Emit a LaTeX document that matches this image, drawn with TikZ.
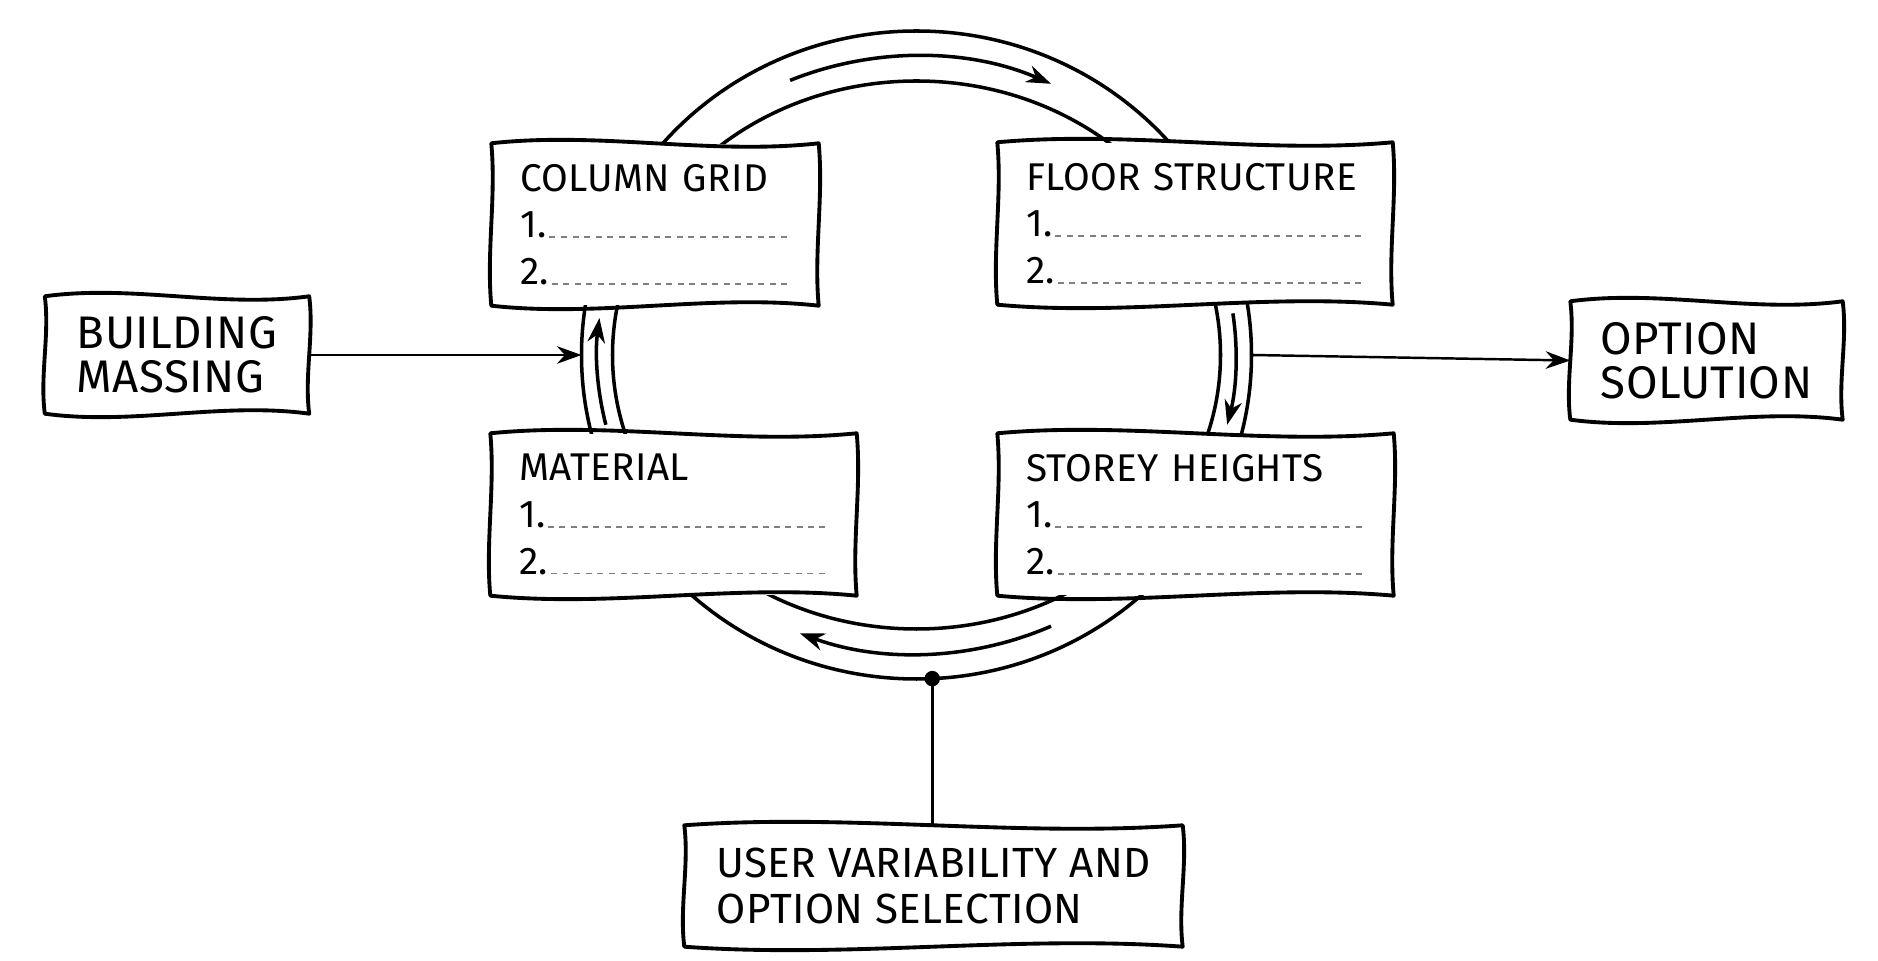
\documentclass[tikz,border=0pt]{standalone}
\usepackage{fontspec}
\setmainfont{Fira Sans}[LetterSpace=1]
\usepackage{xcolor}
\usepackage{tikz}
\usetikzlibrary{arrows.meta, calc}
\newcommand\blankline{\leavevmode\xleaders\hbox to 3.2pt{\hss\textcolor{gray}{\rule{1.7pt}{0.45pt}}\hss}\hfill\kern0pt}
\tikzset{every node/.style={font=\fontsize{11}{13.3}\selectfont},
    sketch/.style={fill=white, align=left, inner xsep=0.28cm},
    listbox/.style={sketch, minimum height=1.61cm},
    bigtext/.style={font=\fontsize{13}{12.6}\selectfont},
    frame/.style={line width=1.1pt, line join=round},
    ring/.style={line width=1pt},
    ringarrow/.style={line width=1pt, -{Stealth[length=7pt,width=5pt]}},
    link/.style={line width=0.7pt, -{Stealth[length=7pt,width=5pt]}}}

\begin{document}
\begin{tikzpicture}
    \useasboundingbox (0,0) rectangle (18.78,9.61);
    \coordinate (ringc) at (9.165,6.06);
    \draw[ring] (ringc) ellipse [x radius=3.35, y radius=3.24];
    \draw[ring] (ringc) ellipse [x radius=3.04, y radius=2.74];
    \draw[ringarrow] ($(ringc)+(113.3:3.195 and 2.99)$) arc [start angle=113.3, end angle=65.1, x radius=3.195, y radius=2.99];
    \draw[ringarrow] ($(ringc)+(8:3.195 and 2.99)$) arc [start angle=8, end angle=-13.5, x radius=3.195, y radius=2.99];
    \draw[ringarrow] ($(ringc)+(294.9:3.195 and 2.99)$) arc [start angle=294.9, end angle=248.6, x radius=3.195, y radius=2.99];
    \draw[ringarrow] ($(ringc)+(193.5:3.195 and 2.99)$) arc [start angle=193.5, end angle=172.9, x radius=3.195, y radius=2.99];
    \coordinate (ringW) at ($(ringc)+(180:3.35 and 3.24)$);
    \coordinate (ringE) at ($(ringc)+(0:3.35 and 3.24)$);
    \coordinate (tap) at ($(ringc)+(-87.3:3.35 and 3.24)$);

    \node[listbox, text width=2.70cm] (grid) at (6.55,7.365) {COLUMN GRID\\1.\blankline\\2.\blankline};
    \node[listbox, text width=3.38cm] (floor) at (11.95,7.375) {FLOOR STRUCTURE\\1.\blankline\\2.\blankline};
    \node[listbox, text width=3.09cm] (material) at (6.735,4.465) {MATERIAL\\1.\blankline\\2.\blankline};
    \node[listbox, text width=3.39cm] (storey) at (11.955,4.465) {STOREY HEIGHTS\\1.\blankline\\2.\blankline};

    \node[sketch, bigtext, minimum width=2.63cm, minimum height=1.16cm] (massing) at (1.77,6.06) {BUILDING\\MASSING};
    \node[sketch, bigtext, minimum width=2.71cm, minimum height=1.17cm] (option) at (17.065,6.005) {OPTION\\SOLUTION};
    \node[sketch, font=\fontsize{12}{13.3}\selectfont, minimum width=4.97cm, minimum height=1.2cm] (user) at (9.335,0.75) {USER VARIABILITY AND\\OPTION SELECTION};

    \foreach \b in {grid,floor,material,storey,massing,option,user}
        \draw[frame] (\b.north west)
            .. controls ($(\b.north west)!0.33!(\b.north east)+(0,0.12)$) and ($(\b.north west)!0.67!(\b.north east)+(0,-0.12)$) .. (\b.north east)
            .. controls ($(\b.north east)!0.33!(\b.south east)+(0.05,0)$) and ($(\b.north east)!0.67!(\b.south east)+(-0.05,0)$) .. (\b.south east)
            .. controls ($(\b.south east)!0.33!(\b.south west)+(0,0.12)$) and ($(\b.south east)!0.67!(\b.south west)+(0,-0.12)$) .. (\b.south west)
            .. controls ($(\b.south west)!0.33!(\b.north west)+(-0.05,0)$) and ($(\b.south west)!0.67!(\b.north west)+(0.05,0)$) .. cycle;

    \draw[link] (massing.east) -- (ringW);
    \draw[link] (ringE) -- (option.west);
    \draw[line width=0.9pt] (tap) -- (tap |- user.north);
    \fill (tap) circle (2.2pt);
\end{tikzpicture}
\end{document}
